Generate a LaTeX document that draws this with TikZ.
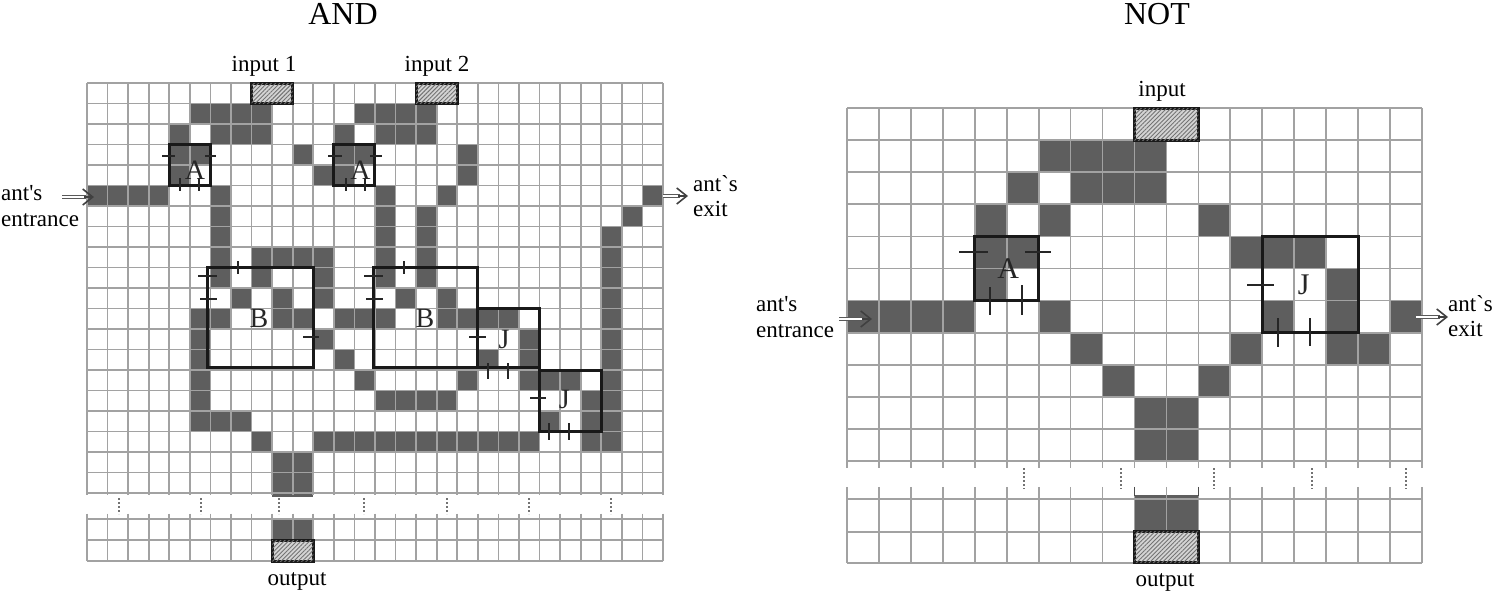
\documentclass[tikz,border=0pt]{standalone}
\usepackage{fontspec}
\setmainfont{Liberation Serif}
\newfontfamily\labelfont{Liberation Serif}
\usetikzlibrary{arrows.meta,patterns.meta}
\definecolor{celldark}{HTML}{5E5E5E}
\definecolor{gridgray}{HTML}{A2A2A2}
\definecolor{hatchbase}{HTML}{D4D4D4}
\tikzset{
	cell/.style={fill=celldark},
	gridline/.style={draw=gridgray,line width=1.7pt},
	gate/.style={draw=black!90,line width=3pt},
	gatetick/.style={draw=black!85,line width=2.4pt},
	port/.style={draw=black!90,line width=3pt,fill=hatchbase},
	hatch/.style={pattern={Lines[angle=45,distance=3pt,line width=0.9pt]},pattern color=black!55},
	breakmark/.style={draw=black!55,line width=1.4pt,dash pattern=on 2pt off 2pt},
	antshaft/.style={double=white,draw=black!65,line width=1.2pt,double distance=2.4pt},
	anthead/.style={draw=black!75,line width=1.6pt,-{Straight Barb[length=10pt,width=16pt]}},
	lbl/.style={font=\labelfont\fontsize{23}{25.5}\selectfont,inner sep=0pt},
	title/.style={font=\fontsize{32}{34}\selectfont,inner sep=0pt},
	gatelbl/.style={font=\fontsize{28}{30}\selectfont,inner sep=0pt,text=black!85},
	biglbl/.style={font=\fontsize{30}{32}\selectfont,inner sep=0pt,text=black!85}
}
\begin{document}
\begin{tikzpicture}[x=1pt,y=-1pt]
	\useasboundingbox (0,0) rectangle (1494,592);

	% AND gate
	\begin{scope}[shift={(87,83)},x=20.57pt,y=-20.5pt]
		\foreach \r/\cols in {1/{5,6,7,8,13,14,15,16},2/{4,6,7,8,12,14,15,16},3/{4,5,10,12,13,18},
			4/{4,11,12,18},5/{0,1,2,3,6,14,17,27},6/{6,14,16,26},7/{6,14,16,25},
			8/{6,8,9,10,11,14,16,25},9/{6,8,11,14,16,25},10/{7,9,11,15,17,25},
			11/{5,6,9,10,12,13,14,17,18,19,20,25},12/{5,11,21,25},13/{5,12,19,21,25},
			14/{5,13,18,21,22,23,25},15/{5,14,15,16,17,24,25},16/{5,6,7,22,24,25},
			17/{8,11,12,13,14,15,16,17,18,19,20,21,24,25},18/{9,10},19/{9,10}}
			\foreach \c in \cols
				\fill [cell] (\c,\r) rectangle ++(1,1);
		\fill [cell] (9,20) rectangle (11,20.2);
		\fill [cell] (9,21.2) rectangle (11,22.3);

		\foreach \r in {0,...,20}
			\draw [gridline] (0,\r) -- (28,\r);
		\foreach \r in {21.27,22.3,23.32}
			\draw [gridline] (0,\r) -- (28,\r);
		\foreach \c in {0,...,28} {
			\draw [gridline] (\c,0) -- (\c,20.1);
			\draw [gridline] (\c,21) -- (\c,23.32);
		}

		\draw [port] (8,0) rectangle (10,1);
		\fill [hatch] (8,0) rectangle (10,1);
		\draw [port] (16,0) rectangle (18,1);
		\fill [hatch] (16,0) rectangle (18,1);
		\draw [port] (9,22.3) rectangle (11,23.32);
		\fill [hatch] (9,22.3) rectangle (11,23.32);

		\draw [gate] (4,3) rectangle (6,5);
		\draw [gate] (12,3) rectangle (14,5);
		\draw [gate] (5.86,9) rectangle (11,13.9);
		\draw [gate] (13.92,9) rectangle (19,13.9);
		\draw [gate] (19,11) rectangle (22,13.9);
		\draw [gate] (22,14) rectangle (25,17);

		\node [gatelbl] (andA) at (5.25,4.24) {A};
		\node [gatelbl] (andAb) at (13.3,4.24) {A};
		\node [gatelbl] (andB) at (8.36,11.46) {B};
		\node [gatelbl] (andBb) at (16.43,11.46) {B};
		\node [gatelbl] (andJ) at (20.27,12.5) {J};
		\node [gatelbl] (andJb) at (23.2,15.46) {J};
	\end{scope}

	\foreach \a/\b/\y in {162/175/156,205/216/156,328/342/156,370/382/156,198/217/276,200/217/299,
		364/383/276,366/383/299,303/319/337,469/486/337,530/546/398}
		\draw [gatetick] (\a,\y) -- (\b,\y);
	\foreach \x/\a/\b in {180/178/191,199/178/191,346/178/191,365/178/191,238/261/274,404/261/274,
		488/363/379,508/363/379,549/423/440,569/423/440}
		\draw [gatetick] (\x,\a) -- (\x,\b);
	\foreach \x in {119,201,279,364,447,529,611}
		\draw [breakmark] (\x,498) -- (\x,514);

	\node [title] (andtitle) at (343,14) {AND};
	\node [lbl] (andinA) at (264,66) {input 1};
	\node [lbl] (andinB) at (437,66) {input 2};
	\node [lbl] (andout) at (297,581) {output};
	\node [lbl,align=left,anchor=west] (andenter) at (1,206) {ant's\\entrance};
	\node [lbl,align=left,anchor=west] (andexit) at (693,196) {ant`s\\exit};
	\coordinate (andenterA) at (62,197);
	\coordinate (andenterB) at (86,197);
	\coordinate (andenterC) at (94,197);
	\coordinate (andexitA) at (663,196);
	\coordinate (andexitB) at (680,196);
	\coordinate (andexitC) at (688,196);
	\draw [antshaft] (andenterA) -- (andenterB);
	\draw [anthead] (andenterC) ++(-10,0) -- (andenterC);
	\draw [antshaft] (andexitA) -- (andexitB);
	\draw [anthead] (andexitC) ++(-10,0) -- (andexitC);

	% NOT gate
	\begin{scope}[shift={(847,108)},x=31.94pt,y=-32.1pt]
		\foreach \r/\cols in {1/{6,7,8,9},2/{5,7,8,9},3/{4,6,11},4/{4,5,12,13,14},5/{4,15},
			6/{0,1,2,3,6,13,15,17},7/{7,12,15,16},8/{8,11},9/{9,10},10/{9,10}}
			\foreach \c in \cols
				\fill [cell] (\c,\r) rectangle ++(1,1);
		\fill [cell] (9,12.06) rectangle (11,13.2);

		\foreach \r in {0,...,11}
			\draw [gridline] (0,\r) -- (18,\r);
		\foreach \r in {12.18,13.2,14.17}
			\draw [gridline] (0,\r) -- (18,\r);
		\foreach \c in {0,...,18} {
			\draw [gridline] (\c,0) -- (\c,11.2);
			\draw [gridline] (\c,11.8) -- (\c,14.17);
		}

		\draw [port] (9,0) rectangle (11,1);
		\fill [hatch] (9,0) rectangle (11,1);
		\draw [port] (9,13.2) rectangle (11,14.17);
		\fill [hatch] (9,13.2) rectangle (11,14.17);

		\draw [black!70,line width=1.4pt] (9,11.8) -- (9,12.1);
		\draw [black!70,line width=1.4pt] (11,11.8) -- (11,12.1);

		\draw [gate] (4,4) rectangle (6,6);
		\draw [gate] (13,4) rectangle (16,7);

		\node [biglbl] (notA) at (5.05,5) {A};
		\node [biglbl] (notJ) at (14.3,5.5) {J};
	\end{scope}

	\foreach \a/\b/\y in {959/988/252,1025/1051/252,1247/1274/285}
		\draw [gatetick] (\a,\y) -- (\b,\y);
	\foreach \x/\a/\b in {990/287/315,1022/285/315,1278/318/347,1310/318/346}
		\draw [gatetick] (\x,\a) -- (\x,\b);
	\foreach \x in {1024,1121,1214,1312,1406}
		\draw [breakmark] (\x,468) -- (\x,489);

	\node [title] (nottitle) at (1157,14) {NOT};
	\node [lbl] (notin) at (1162,91) {input};
	\node [lbl] (notout) at (1165,582) {output};
	\node [lbl,align=left,anchor=west] (notenter) at (756,317) {ant's\\entrance};
	\node [lbl,align=left,anchor=west] (notexit) at (1448,316) {ant`s\\exit};
	\coordinate (notenterA) at (839,319);
	\coordinate (notenterB) at (864,319);
	\coordinate (notenterC) at (872,319);
	\coordinate (notexitA) at (1416,317);
	\coordinate (notexitB) at (1440,317);
	\coordinate (notexitC) at (1448,317);
	\draw [antshaft] (notenterA) -- (notenterB);
	\draw [anthead] (notenterC) ++(-10,0) -- (notenterC);
	\draw [antshaft] (notexitA) -- (notexitB);
	\draw [anthead] (notexitC) ++(-10,0) -- (notexitC);
\end{tikzpicture}
\end{document}
